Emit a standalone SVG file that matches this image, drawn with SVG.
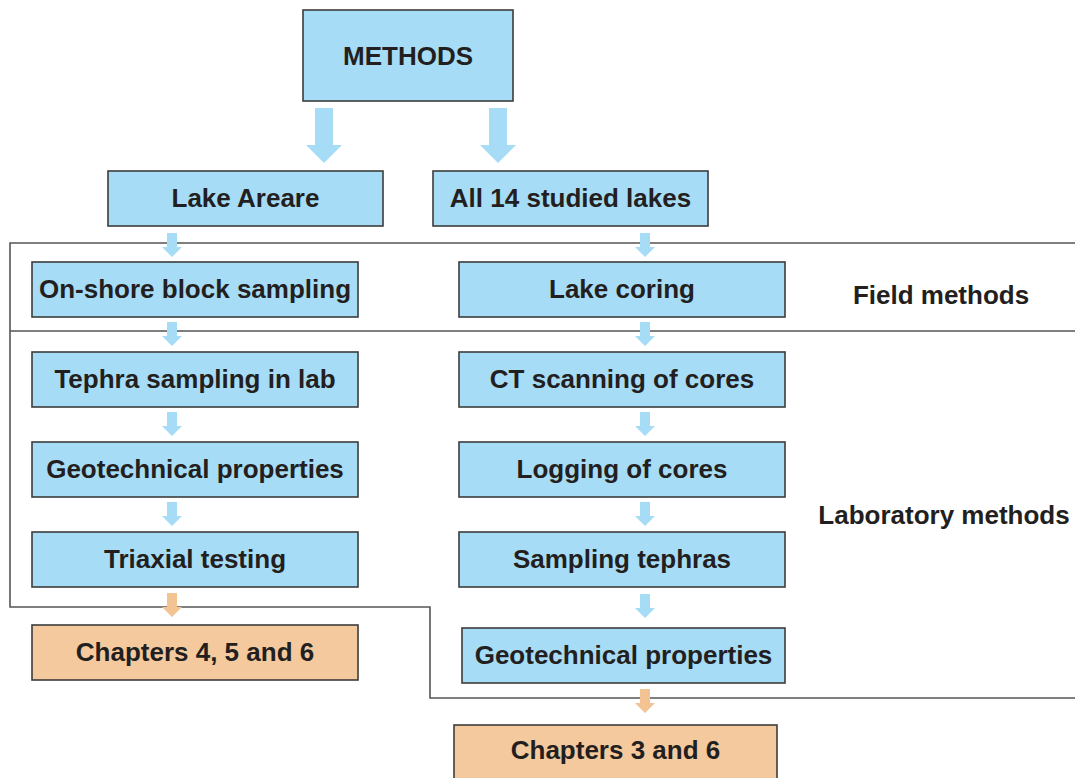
<svg xmlns="http://www.w3.org/2000/svg" width="1075" height="778" viewBox="0 0 1075 778">
<style>
.box{fill:#a7dcf6;stroke:#3c3c3c;stroke-width:1.6}
.obox{fill:#f3c99d;stroke:#3c3c3c;stroke-width:1.6}
.t{font-family:"Liberation Sans",Arial,sans-serif;font-weight:bold;font-size:26px;fill:#231f20;text-anchor:middle}
.ba{fill:#a7dcf6}
.oa{fill:#f3c393}
.frame{fill:none;stroke:#555;stroke-width:1.6}
</style>
<defs>
<path id="sa" d="M-5,0 H5 V14 H10 L0,24 L-10,14 H-5 Z"/>
</defs>
<rect width="1075" height="778" fill="#ffffff"/>
<g id="connectors">
<path class="frame" d="M1075,243 H10 V607 H430 V698 H1075"/>
<path class="frame" d="M10,331 H1075"/>
<path class="ba" d="M315,108 H333 V145 H342 L324,163 L306,145 H315 Z"/>
<path class="ba" d="M489,108 H507 V145 H516 L498,163 L480,145 H489 Z"/>
<use href="#sa" class="ba" x="172" y="233"/>
<use href="#sa" class="ba" x="645" y="233"/>
<use href="#sa" class="ba" x="172" y="322"/>
<use href="#sa" class="ba" x="645" y="322"/>
<use href="#sa" class="ba" x="172" y="412"/>
<use href="#sa" class="ba" x="645" y="412"/>
<use href="#sa" class="ba" x="172" y="502"/>
<use href="#sa" class="ba" x="645" y="502"/>
<use href="#sa" class="oa" x="172" y="593"/>
<use href="#sa" class="ba" x="645" y="594"/>
<use href="#sa" class="oa" x="645" y="689"/>
</g>
<g id="methods"><rect class="box" x="303" y="10" width="210" height="91"/><text class="t" x="408" y="65">METHODS</text></g>
<g id="lake-areare"><rect class="box" x="108" y="171" width="275" height="55"/><text class="t" x="245.5" y="207">Lake Areare</text></g>
<g id="all-lakes"><rect class="box" x="433" y="171" width="275" height="55"/><text class="t" x="570.5" y="207">All 14 studied lakes</text></g>
<g id="onshore"><rect class="box" x="32" y="262" width="326" height="55"/><text class="t" x="195" y="298">On-shore block sampling</text></g>
<g id="lake-coring"><rect class="box" x="459" y="262" width="326" height="55"/><text class="t" x="622" y="298">Lake coring</text></g>
<g id="tephra-lab"><rect class="box" x="32" y="352" width="326" height="55"/><text class="t" x="195" y="388">Tephra sampling in lab</text></g>
<g id="ct-scan"><rect class="box" x="459" y="352" width="326" height="55"/><text class="t" x="622" y="388">CT scanning of cores</text></g>
<g id="geotech-left"><rect class="box" x="32" y="442" width="326" height="55"/><text class="t" x="195" y="478">Geotechnical properties</text></g>
<g id="logging"><rect class="box" x="459" y="442" width="326" height="55"/><text class="t" x="622" y="478">Logging of cores</text></g>
<g id="triaxial"><rect class="box" x="32" y="532" width="326" height="55"/><text class="t" x="195" y="568">Triaxial testing</text></g>
<g id="sampling-tephras"><rect class="box" x="459" y="532" width="326" height="55"/><text class="t" x="622" y="568">Sampling tephras</text></g>
<g id="chapters-456"><rect class="obox" x="32" y="625" width="326" height="55"/><text class="t" x="195" y="661">Chapters 4, 5 and 6</text></g>
<g id="geotech-right"><rect class="box" x="462" y="628" width="323" height="55"/><text class="t" x="623.5" y="664">Geotechnical properties</text></g>
<g id="chapters-36"><rect class="obox" x="454" y="725" width="323" height="60"/><text class="t" x="615.5" y="759">Chapters 3 and 6</text></g>
<g id="field-label"><text class="t" x="941" y="304">Field methods</text></g>
<g id="lab-label"><text class="t" x="944" y="524">Laboratory methods</text></g>
</svg>
